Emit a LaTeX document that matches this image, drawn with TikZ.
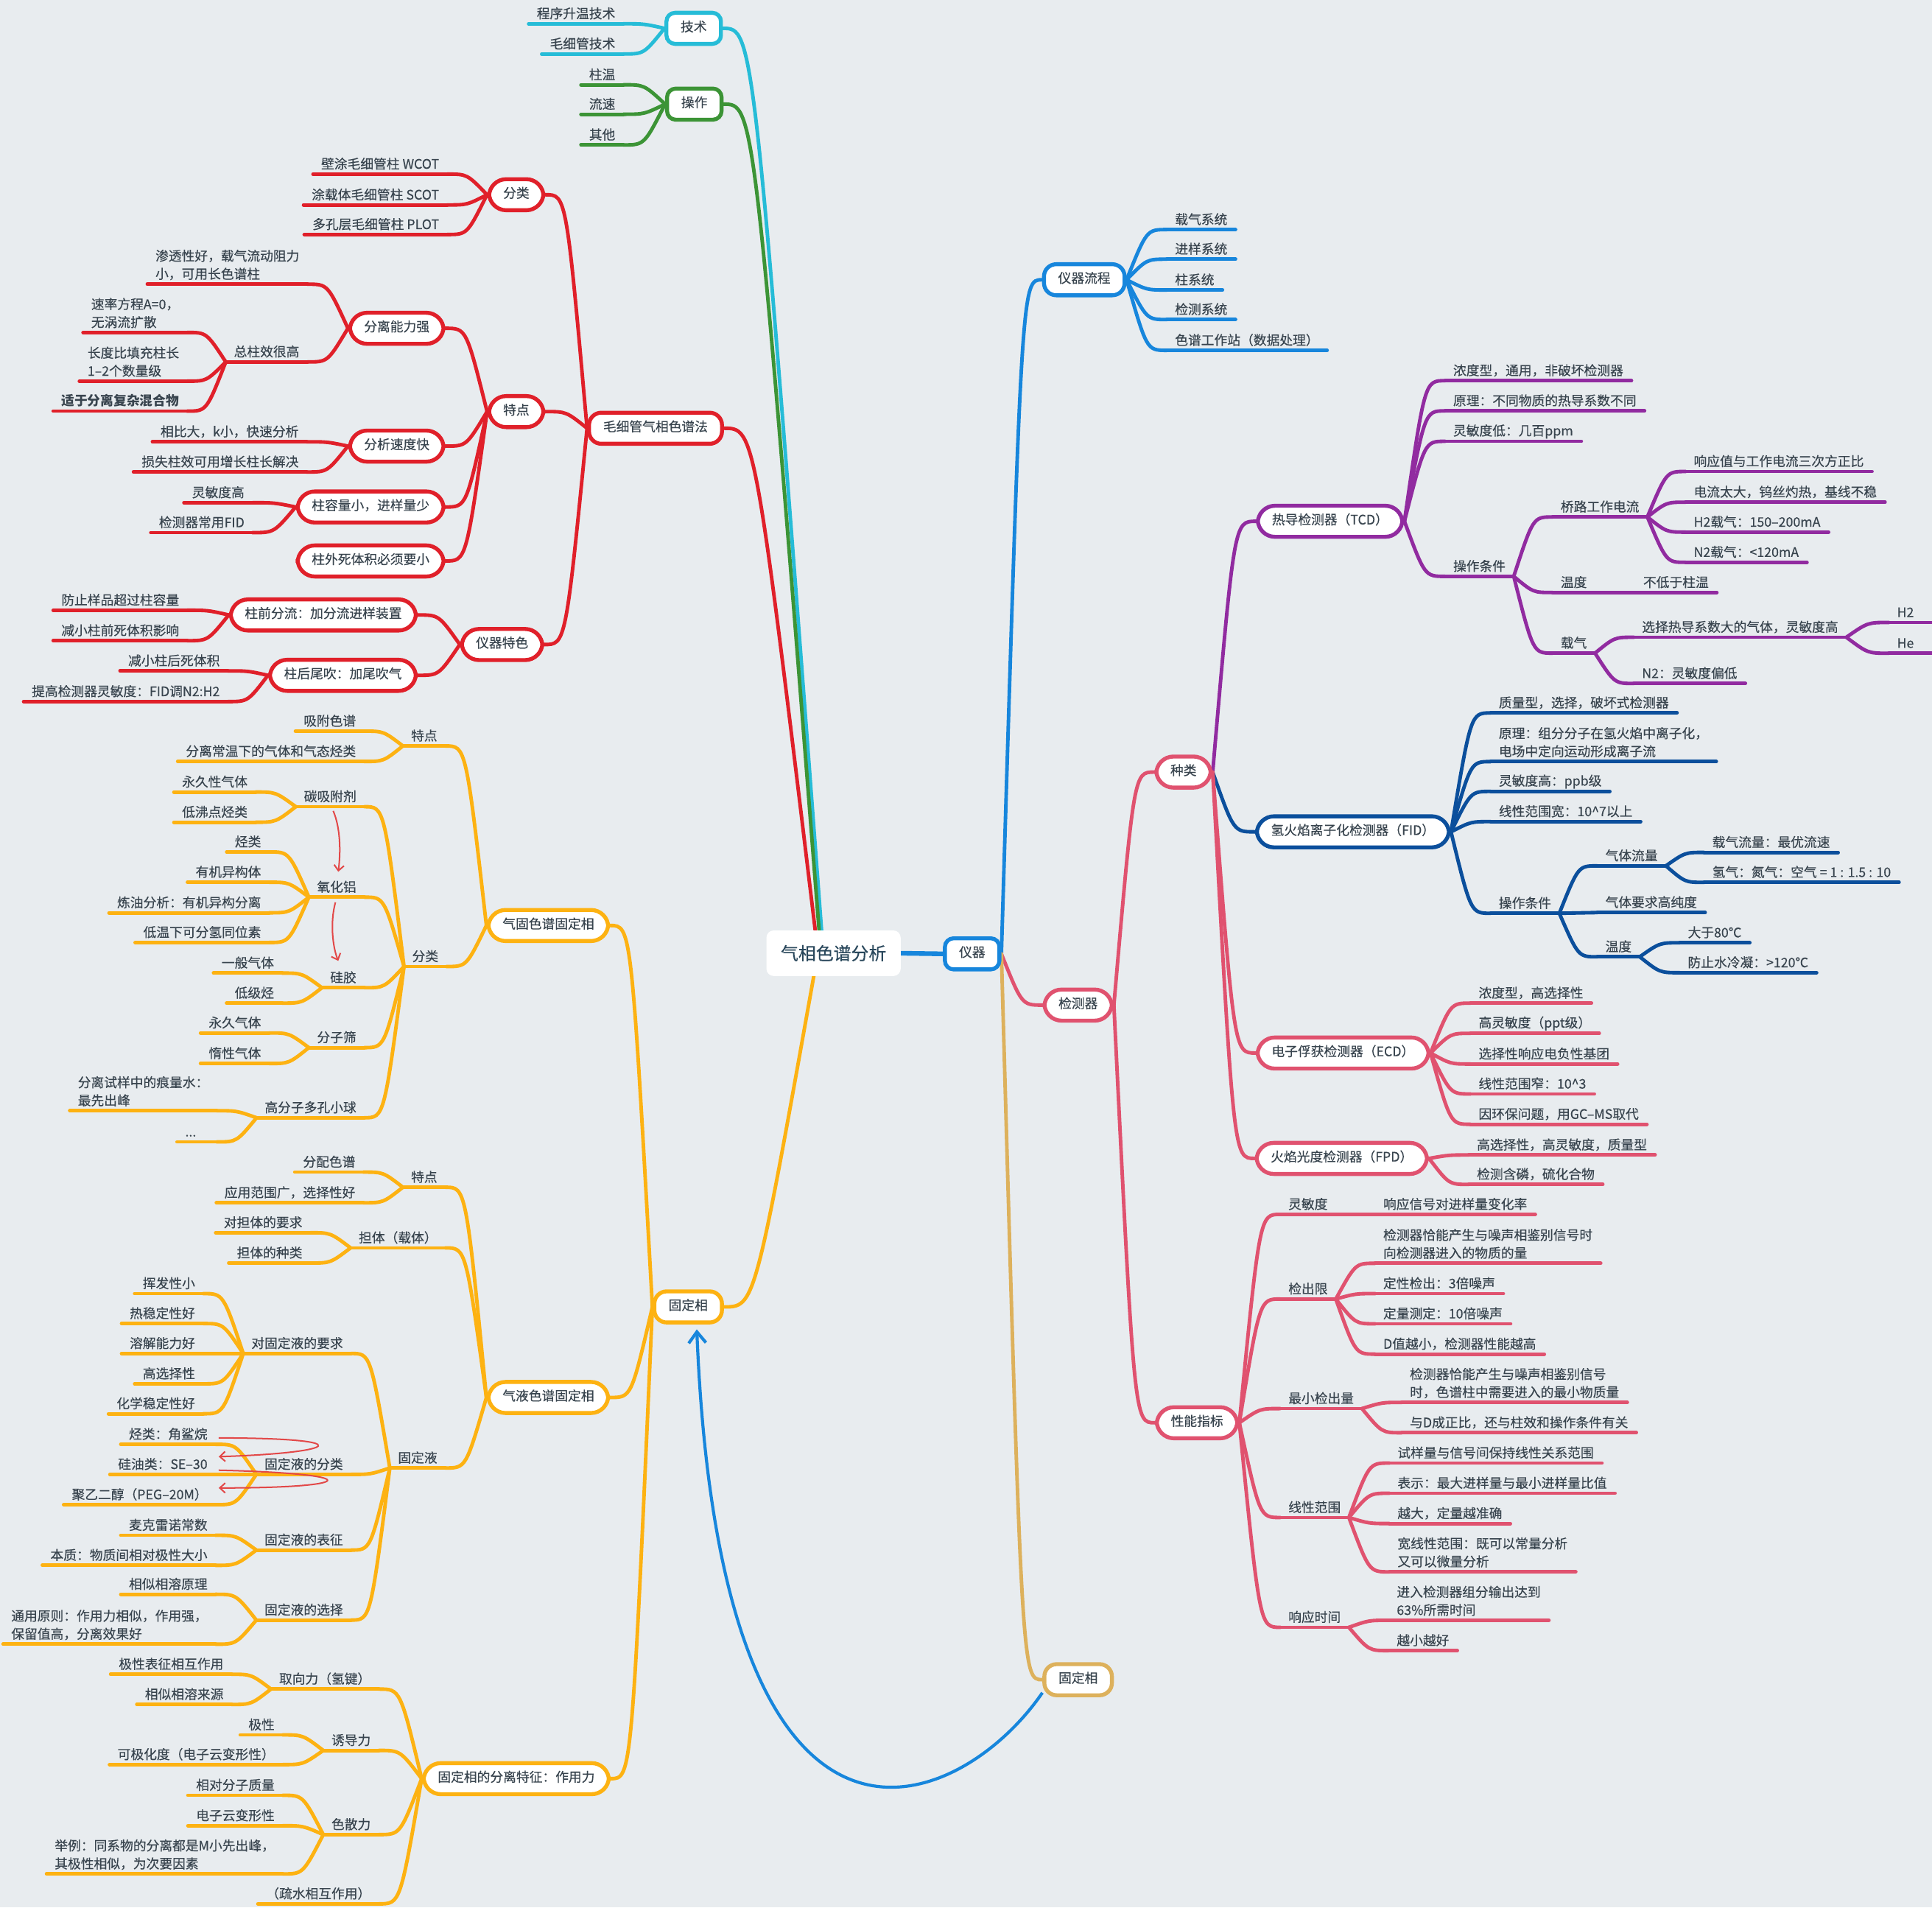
\documentclass[tikz,border=0pt]{standalone}
\usepackage{fontspec}
\setmainfont{Noto Sans CJK SC}[UprightFeatures={FakeBold=0.3}]
\usetikzlibrary{calc,arrows.meta}
\definecolor{bgc}{RGB}{232,236,239}
\definecolor{txt}{RGB}{56,68,78}
\definecolor{ctxt}{RGB}{42,72,92}
\definecolor{cCy}{RGB}{38,188,215}
\definecolor{cGr}{RGB}{60,148,54}
\definecolor{cRd}{RGB}{224,32,42}
\definecolor{cOr}{RGB}{253,178,18}
\definecolor{cBl}{RGB}{23,134,220}
\definecolor{cPk}{RGB}{224,82,111}
\definecolor{cPu}{RGB}{145,43,160}
\definecolor{cDb}{RGB}{11,79,156}
\definecolor{cTn}{RGB}{221,177,92}
\definecolor{cRa}{RGB}{226,72,72}
\pgfdeclarelayer{back}
\pgfdeclarelayer{conn}
\pgfsetlayers{back,conn,main}
\newcommand\lf{\fontsize{15.1pt}{20.8pt}\selectfont}
\newcommand\cf{\fontsize{20.3pt}{24pt}\selectfont}
\newcommand\stt{\rule[-0.2em]{0pt}{0.2em}}
\tikzset{
  leaf/.style={font=\lf, text=txt, inner xsep=3.25mm, inner ysep=1.07mm, align=left,
    append after command={(\tikzlastnode.south west) edge[draw=#1, line width=1.45mm, line cap=round] (\tikzlastnode.south east)}},
  box/.style={draw=#1, fill=white, line width=1.6mm, font=\lf, text=txt, inner xsep=5.75mm, inner ysep=4.55mm, text height=0.86em, text depth=0.14em},
  r1/.style={rounded corners=3.5mm},
  r2/.style={rounded corners=5mm},
  r3/.style={rounded corners=7mm},
  cn/.style={draw=#1, line width=1.45mm, line cap=round},
  ctrs/.style={fill=white, rounded corners=3mm, minimum width=54.5mm, minimum height=18.5mm, font=\cf, text=ctxt, inner sep=0pt},
  relarrow/.style={draw=cBl, line width=1.25mm, -{Straight Barb[length=4.5mm,width=7mm]}},
  redarrow/.style={draw=cRa, line width=0.6mm, -{Straight Barb[length=2.2mm,width=4mm]}},
}
\newcommand\LL[6][]{\node[leaf=#6,anchor=south east,#1] (#2) at (#3,#4) {#5\stt};}
\newcommand\RL[6][]{\node[leaf=#6,anchor=south west,#1] (#2) at (#3,#4) {#5\stt};}
\newcommand\BX[6]{\node[box=#5,#6] (#1) at (#2,#3) {#4};}
\newcommand\cx[3]{\draw[cn=#1] let \p1=(#2),\p2=(#3),\n1={max(min(0.5*(\x1-\x2),35.57),-35.57)} in (\p1) .. controls ({\x2+\n1*1pt},\y2) .. (\p2);}
\newcommand\fan[4]{\foreach \cc in {#4}{\cx{#1}{#2}{\cc.#3}}}
\begin{document}
\begin{tikzpicture}[x=0.5mm,y=-0.5mm]
\useasboundingbox (0,0) rectangle (1568,1547.7);
\begin{pgfonlayer}{back}
\fill[bgc] (0,0) rectangle (1568,1547.7);
\end{pgfonlayer}

% ---------- main nodes
\node[ctrs] (ctr) at (676.5,773.5) {气相色谱分析};
\BX{js}{563}{23}{技术}{cCy}{r1}
\BX{cz}{563.5}{84.5}{操作}{cGr}{r1}
\BX{mx}{532}{347.5}{毛细管气相色谱法}{cRd}{r2}
\BX{gxl}{558.5}{1060.5}{固定相}{cOr}{r2}
\BX{yq}{789}{774}{仪器}{cBl}{r1}
\coordinate (ct1) at (667,758);
\coordinate (ct2) at (665,758);
\coordinate (ct3) at (662,758);
\coordinate (cb1) at (661,789);

% ---------- tech / operation
\LL{t1}{506}{19.3}{程序升温技术}{cCy}
\LL{t2}{506}{43.8}{毛细管技术}{cCy}
\LL{o1}{506}{68.8}{柱温}{cGr}
\LL{o2}{506}{92.7}{流速}{cGr}
\LL{o3}{506}{117.6}{其他}{cGr}

% ---------- red branch
\BX{rfl}{419}{158}{分类}{cRd}{r3}
\BX{rtd}{419}{334}{特点}{cRd}{r3}
\BX{rys}{407.5}{523}{仪器特色}{cRd}{r3}
\BX{rfn}{322}{266.4}{分离能力强}{cRd}{r3}
\BX{rfs}{322}{362}{分析速度快}{cRd}{r3}
\BX{rzr}{300.8}{411.4}{柱容量小，进样量少}{cRd}{r3}
\BX{rzw}{300.8}{455.2}{柱外死体积必须要小}{cRd}{r3}
\BX{rzq}{262.4}{499}{柱前分流：加分流进样装置}{cRd}{r3}
\BX{rzh}{278.3}{548}{柱后尾吹：加尾吹气}{cRd}{r3}
\LL{ra1}{363}{141.3}{壁涂毛细管柱 WCOT}{cRd}
\LL{ra2}{363}{166.3}{涂载体毛细管柱 SCOT}{cRd}
\LL{ra3}{363}{190.3}{多孔层毛细管柱 PLOT}{cRd}
\LL{rb1}{249.6}{230.6}{渗透性好，载气流动阻力\\小，可用长色谱柱}{cRd}
\LL{rb2}{249.6}{293.7}{总柱效很高}{cRd}
\LL{rc1}{152}{269.8}{速率方程A=0，\\无涡流扩散}{cRd}
\LL{rc2}{152}{309.3}{长度比填充柱长\\1–2个数量级}{cRd}
\LL{rc3}{152}{333.6}{\textbf{适于分离复杂混合物}}{cRd}
\LL{rd1}{249}{358.5}{相比大，k小，快速分析}{cRd}
\LL{rd2}{249}{383}{损失柱效可用增长柱长解决}{cRd}
\LL{re1}{205}{407.9}{灵敏度高}{cRd}
\LL{re2}{205}{432.2}{检测器常用FID}{cRd}
\LL{rf1}{152}{495.2}{防止样品超过柱容量}{cRd}
\LL{rf2}{152}{519.9}{减小柱前死体积影响}{cRd}
\LL{rg1}{185}{544.4}{减小柱后死体积}{cRd}
\LL{rg2}{185}{569.3}{提高检测器灵敏度：FID调N2:H2}{cRd}

% ---------- orange: gas-solid
\BX{ogs}{445}{751}{气固色谱固定相}{cOr}{r3}
\BX{oys}{445}{1134}{气液色谱固定相}{cOr}{r3}
\BX{ofl}{419}{1443.3}{固定相的分离特征：作用力}{cOr}{r3}
\LL{oa}{361.5}{605.3}{特点}{cOr}
\LL{ob}{362.4}{784.3}{分类}{cOr}
\LL{oa1}{295.5}{593.3}{吸附色谱}{cOr}
\LL{oa2}{295.5}{617.9}{分离常温下的气体和气态烃类}{cOr}
\LL{ob1}{295.8}{654.6}{碳吸附剂}{cOr}
\LL{ob2}{295.8}{728}{氧化铝}{cOr}
\LL{ob3}{295.8}{801.5}{硅胶}{cOr}
\LL{ob4}{295.8}{850.1}{分子筛}{cOr}
\LL{ob5}{295.8}{907}{高分子多孔小球}{cOr}
\LL{oc1}{207.5}{642.7}{永久性气体}{cOr}
\LL{oc2}{207.5}{667.2}{低沸点烃类}{cOr}
\LL{od1}{218.5}{691.3}{烃类}{cOr}
\LL{od2}{218.5}{715.9}{有机异构体}{cOr}
\LL{od3}{218.5}{740.7}{炼油分析：有机异构分离}{cOr}
\LL{od4}{218.5}{764.8}{低温下可分氢同位素}{cOr}
\LL{oe1}{229}{789.6}{一般气体}{cOr}
\LL{oe2}{229}{814}{低级烃}{cOr}
\LL{of1}{218.5}{838.2}{永久气体}{cOr}
\LL{of2}{218.5}{863}{惰性气体}{cOr}
\LL{oh1}{176}{901.3}{分离试样中的痕量水：\\最先出峰}{cOr}
\LL[text width=9.5mm]{oh2}{176}{926.6}{...}{cOr}

% ---------- orange: gas-liquid
\LL{pa}{361.5}{963.4}{特点}{cOr}
\LL{pb}{361.5}{1012.6}{担体（载体）}{cOr}
\LL{pc}{361.5}{1191.2}{固定液}{cOr}
\LL{pa1}{295}{951.1}{分配色谱}{cOr}
\LL{pa2}{295}{976}{应用范围广，选择性好}{cOr}
\LL{pb1}{252}{1000.3}{对担体的要求}{cOr}
\LL{pb2}{252}{1024.9}{担体的种类}{cOr}
\LL{pc1}{285}{1098.3}{对固定液的要求}{cOr}
\LL{pc2}{285}{1196.4}{固定液的分类}{cOr}
\LL{pc3}{285}{1257.8}{固定液的表征}{cOr}
\LL{pc4}{285}{1314.6}{固定液的选择}{cOr}
\LL{pd1}{165}{1049.7}{挥发性小}{cOr}
\LL{pd2}{165}{1074}{热稳定性好}{cOr}
\LL{pd3}{165}{1098.3}{溶解能力好}{cOr}
\LL{pd4}{165}{1122.9}{高选择性}{cOr}
\LL{pd5}{165}{1147.2}{化学稳定性好}{cOr}
\LL{pe1}{175}{1172}{烃类：角鲨烷}{cOr}
\LL{pe2}{175}{1196.4}{硅油类：SE–30}{cOr}
\LL{pe3}{175}{1221}{聚乙二醇（PEG–20M）}{cOr}
\LL{pf1}{175}{1245.8}{麦克雷诺常数}{cOr}
\LL{pf2}{175}{1270.2}{本质：物质间相对极性大小}{cOr}
\LL{pg1}{175}{1293.7}{相似相溶原理}{cOr}
\LL{pg2}{175}{1334.2}{通用原则：作用力相似，作用强，\\保留值高，分离效果好}{cOr}

% ---------- orange: forces
\LL{qa}{307.5}{1370.6}{取向力（氢键）}{cOr}
\LL{qb}{307.5}{1420.4}{诱导力}{cOr}
\LL{qc}{307.5}{1488.7}{色散力}{cOr}
\LL{qd}{307.5}{1544.9}{（疏水相互作用）}{cOr}
\LL{qa1}{188}{1358.6}{极性表征相互作用}{cOr}
\LL{qa2}{188}{1383.1}{相似相溶来源}{cOr}
\LL{qb1}{229.5}{1407.8}{极性}{cOr}
\LL{qb2}{229.5}{1431.9}{可极化度（电子云变形性）}{cOr}
\LL{qc1}{229.5}{1456.8}{相对分子质量}{cOr}
\LL{qc2}{229.5}{1481.5}{电子云变形性}{cOr}
\LL{qc3}{229.5}{1520.6}{举例：同系物的分离都是M小先出峰，\\其极性相似，为次要因素}{cOr}

% ---------- right side boxes
\BX{lc}{880}{227}{仪器流程}{cBl}{r2}
\BX{jcq}{875}{815.6}{检测器}{cPk}{r3}
\BX{gxr}{875}{1363}{固定相}{cTn}{r2}
\BX{zl}{960.5}{626.5}{种类}{cPk}{r3}
\BX{xn}{971.5}{1154.5}{性能指标}{cPk}{r3}
\BX{tcd}{1079.5}{423}{热导检测器（TCD）}{cPu}{r3}
\BX{fid}{1098}{675}{氢火焰离子化检测器（FID）}{cDb}{r3}
\BX{ecd}{1090}{854.5}{电子俘获检测器（ECD）}{cPk}{r3}
\BX{fpd}{1089}{940}{火焰光度检测器（FPD）}{cPk}{r3}

\RL{la1}{947}{186.3}{载气系统}{cBl}
\RL{la2}{947}{210.3}{进样系统}{cBl}
\RL{la3}{947}{235.3}{柱系统}{cBl}
\RL{la4}{947}{259.3}{检测系统}{cBl}
\RL{la5}{947}{284.3}{色谱工作站（数据处理）}{cBl}

\RL{ta1}{1172.8}{308.9}{浓度型，通用，非破坏检测器}{cPu}
\RL{ta2}{1172.8}{333.4}{原理：不同物质的热导系数不同}{cPu}
\RL{ta3}{1172.8}{358.1}{灵敏度低：几百ppm}{cPu}
\RL{ta4}{1172.8}{467.7}{操作条件}{cPu}
\RL{tb1}{1260}{419.5}{桥路工作电流}{cPu}
\RL{tb2}{1260}{480.8}{温度}{cPu}
\RL{tb3}{1260}{530}{载气}{cPu}
\RL{tc1}{1368}{382.6}{响应值与工作电流三次方正比}{cPu}
\RL{tc2}{1368}{407.5}{电流太大，钨丝灼热，基线不稳}{cPu}
\RL{tc3}{1368}{431.8}{H2载气：150–200mA}{cPu}
\RL{tc4}{1368}{456.3}{N2载气：<120mA}{cPu}
\RL{td1}{1327}{480.8}{不低于柱温}{cPu}
\RL{te1}{1326}{517.1}{选择热导系数大的气体，灵敏度高}{cPu}
\RL{te2}{1326}{554.6}{N2：灵敏度偏低}{cPu}
\RL[text width=11mm]{tf1}{1533}{505.1}{H2}{cPu}
\RL[text width=11mm]{tf2}{1533}{530.1}{He}{cPu}

\RL{fa1}{1209.8}{578.5}{质量型，选择，破坏式检测器}{cDb}
\RL{fa2}{1209.8}{618}{原理：组分分子在氢火焰中离子化，\\电场中定向运动形成离子流}{cDb}
\RL{fa3}{1209.8}{642.2}{灵敏度高：ppb级}{cDb}
\RL{fa4}{1209.8}{666.7}{线性范围宽：10\textasciicircum 7以上}{cDb}
\RL{fa5}{1209.8}{741.1}{操作条件}{cDb}
\RL{fb1}{1296.3}{702.6}{气体流量}{cDb}
\RL{fb2}{1296.3}{740.5}{气体要求高纯度}{cDb}
\RL{fb3}{1296.3}{776.4}{温度}{cDb}
\RL{fc1}{1383}{691.7}{载气流量：最优流速}{cDb}
\RL{fc2}{1383}{716}{氢气：氮气：空气 = 1 : 1.5 : 10}{cDb}
\RL{fd1}{1363.2}{765}{大于80℃}{cDb}
\RL{fd2}{1363.2}{789.3}{防止水冷凝：>120℃}{cDb}

\RL{ea1}{1193.4}{814}{浓度型，高选择性}{cPk}
\RL{ea2}{1193.4}{838.5}{高灵敏度（ppt级）}{cPk}
\RL{ea3}{1193.4}{863.4}{选择性响应电负性基团}{cPk}
\RL{ea4}{1193.4}{887.7}{线性范围窄：10\textasciicircum 3}{cPk}
\RL{ea5}{1193.4}{912.3}{因环保问题，用GC–MS取代}{cPk}
\RL{fp1}{1192}{937.2}{高选择性，高灵敏度，质量型}{cPk}
\RL{fp2}{1192}{961.1}{检测含磷，硫化合物}{cPk}

\RL{xa}{1039}{985.4}{灵敏度}{cPk}
\RL{xb}{1039}{1054.1}{检出限}{cPk}
\RL{xc}{1039}{1143}{最小检出量}{cPk}
\RL{xd}{1039}{1231.4}{线性范围}{cPk}
\RL{xe}{1039}{1320.5}{响应时间}{cPk}
\RL{xa1}{1116}{985.4}{响应信号对进样量变化率}{cPk}
\RL{xb1}{1116}{1025.1}{检测器恰能产生与噪声相鉴别信号时\\向检测器进入的物质的量}{cPk}
\RL{xb2}{1116}{1049.7}{定性检出：3倍噪声}{cPk}
\RL{xb3}{1116}{1074.2}{定量测定：10倍噪声}{cPk}
\RL{xb4}{1116}{1098.8}{D值越小，检测器性能越高}{cPk}
\RL{xc1}{1137.6}{1138}{检测器恰能产生与噪声相鉴别信号\\时，色谱柱中需要进入的最小物质量}{cPk}
\RL{xc2}{1137.6}{1162.6}{与D成正比，还与柱效和操作条件有关}{cPk}
\RL{xd1}{1127.6}{1187.2}{试样量与信号间保持线性关系范围}{cPk}
\RL{xd2}{1127.6}{1211.7}{表示：最大进样量与最小进样量比值}{cPk}
\RL{xd3}{1127.6}{1236.3}{越大，定量越准确}{cPk}
\RL{xd4}{1127.6}{1275.5}{宽线性范围：既可以常量分析\\又可以微量分析}{cPk}
\RL{xe1}{1127}{1314.8}{进入检测器组分输出达到\\63\%所需时间}{cPk}
\RL{xe2}{1127}{1339.4}{越小越好}{cPk}

% ---------- connectors
\begin{pgfonlayer}{conn}
\cx{cCy}{ct1}{js.east}
\cx{cGr}{ct2}{cz.east}
\cx{cRd}{ct3}{mx.east}
\cx{cOr}{cb1}{gxl.east}
\draw[cn=cBl,line width=1.9mm] (ctr.east) -- (yq.west);
\fan{cCy}{js.west}{south east}{t1,t2}
\fan{cGr}{cz.west}{south east}{o1,o2,o3}
\fan{cRd}{mx.west}{east}{rfl,rtd,rys}
\fan{cRd}{rfl.west}{south east}{ra1,ra2,ra3}
\fan{cRd}{rtd.west}{east}{rfn,rfs,rzr,rzw}
\fan{cRd}{rfn.west}{south east}{rb1,rb2}
\fan{cRd}{rb2.south west}{south east}{rc1,rc2,rc3}
\fan{cRd}{rfs.west}{south east}{rd1,rd2}
\fan{cRd}{rzr.west}{south east}{re1,re2}
\fan{cRd}{rys.west}{east}{rzq,rzh}
\fan{cRd}{rzq.west}{south east}{rf1,rf2}
\fan{cRd}{rzh.west}{south east}{rg1,rg2}
\fan{cOr}{gxl.west}{east}{ogs,oys,ofl}
\fan{cOr}{ogs.west}{south east}{oa,ob}
\fan{cOr}{oa.south west}{south east}{oa1,oa2}
\fan{cOr}{ob.south west}{south east}{ob1,ob2,ob3,ob4,ob5}
\fan{cOr}{ob1.south west}{south east}{oc1,oc2}
\fan{cOr}{ob2.south west}{south east}{od1,od2,od3,od4}
\fan{cOr}{ob3.south west}{south east}{oe1,oe2}
\fan{cOr}{ob4.south west}{south east}{of1,of2}
\fan{cOr}{ob5.south west}{south east}{oh1,oh2}
\fan{cOr}{oys.west}{south east}{pa,pb,pc}
\fan{cOr}{pa.south west}{south east}{pa1,pa2}
\fan{cOr}{pb.south west}{south east}{pb1,pb2}
\fan{cOr}{pc.south west}{south east}{pc1,pc2,pc3,pc4}
\fan{cOr}{pc1.south west}{south east}{pd1,pd2,pd3,pd4,pd5}
\fan{cOr}{pc2.south west}{south east}{pe1,pe2,pe3}
\fan{cOr}{pc3.south west}{south east}{pf1,pf2}
\fan{cOr}{pc4.south west}{south east}{pg1,pg2}
\fan{cOr}{ofl.west}{south east}{qa,qb,qc,qd}
\fan{cOr}{qa.south west}{south east}{qa1,qa2}
\fan{cOr}{qb.south west}{south east}{qb1,qb2}
\fan{cOr}{qc.south west}{south east}{qc1,qc2,qc3}
\cx{cBl}{yq.east}{lc.west}
\cx{cPk}{yq.east}{jcq.west}
\cx{cTn}{yq.east}{gxr.west}
\fan{cBl}{lc.east}{south west}{la1,la2,la3,la4,la5}
\fan{cPk}{jcq.east}{west}{zl,xn}
\cx{cPu}{zl.east}{tcd.west}
\cx{cDb}{zl.east}{fid.west}
\fan{cPk}{zl.east}{west}{ecd,fpd}
\fan{cPu}{tcd.east}{south west}{ta1,ta2,ta3,ta4}
\fan{cPu}{ta4.south east}{south west}{tb1,tb2,tb3}
\fan{cPu}{tb1.south east}{south west}{tc1,tc2,tc3,tc4}
\fan{cPu}{tb2.south east}{south west}{td1}
\fan{cPu}{tb3.south east}{south west}{te1,te2}
\fan{cPu}{te1.south east}{south west}{tf1,tf2}
\fan{cDb}{fid.east}{south west}{fa1,fa2,fa3,fa4,fa5}
\fan{cDb}{fa5.south east}{south west}{fb1,fb2,fb3}
\fan{cDb}{fb1.south east}{south west}{fc1,fc2}
\fan{cDb}{fb3.south east}{south west}{fd1,fd2}
\fan{cPk}{ecd.east}{south west}{ea1,ea2,ea3,ea4,ea5}
\fan{cPk}{fpd.east}{south west}{fp1,fp2}
\fan{cPk}{xn.east}{south west}{xa,xb,xc,xd,xe}
\fan{cPk}{xa.south east}{south west}{xa1}
\fan{cPk}{xb.south east}{south west}{xb1,xb2,xb3,xb4}
\fan{cPk}{xc.south east}{south west}{xc1,xc2}
\fan{cPk}{xd.south east}{south west}{xd1,xd2,xd3,xd4}
\fan{cPk}{xe.south east}{south west}{xe1,xe2}
\end{pgfonlayer}

% ---------- relationship arrows
\draw[relarrow] (gxr.200) .. controls (780,1470) and (585,1560) .. ($(gxl.south)+(7,4)$);
\draw[redarrow] ($(ob1.south)+(2.5,3.4)$) .. controls +(6,14) and +(2,-16) .. ($(ob2.south)+(1.3,-20.6)$);
\draw[redarrow] ($(ob2.south)+(-1,4.2)$) .. controls +(-4.4,15.8) and +(-4.7,-11.7) .. ($(ob3.south)+(-4,-21.8)$);
\draw[redarrow] ($(pe1.south east)+(2.5,-5.2)$) .. controls +(117.5,0.2) and +(97.5,-3) .. ($(pe2.south east)+(2.5,-14.4)$);
\draw[redarrow] ($(pe2.south east)+(2.5,-3.4)$) .. controls +(122.5,3) and +(112.5,0.1) .. ($(pe3.south east)+(2.5,-13.6)$);
\end{tikzpicture}
\end{document}
